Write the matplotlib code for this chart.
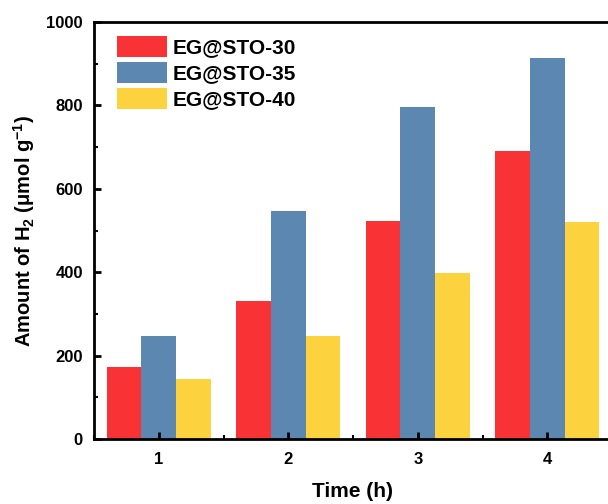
import matplotlib
matplotlib.use("Agg")
import matplotlib.pyplot as plt
import numpy as np
from matplotlib.ticker import MultipleLocator

times = [1, 2, 3, 4]
series_names = ["EG@STO-30", "EG@STO-35", "EG@STO-40"]
eg30 = [172, 331, 522, 690]
eg35 = [248, 547, 797, 914]
eg40 = [145, 246, 398, 520]
colors = ["#F83235", "#5B87B0", "#FDD23F"]

plt.rcParams['font.family'] = ['Liberation Sans', 'DejaVu Sans']
plt.rcParams['font.weight'] = 'bold'
plt.rcParams['mathtext.fontset'] = 'custom'
plt.rcParams['mathtext.rm'] = 'Liberation Sans:bold'
plt.rcParams['mathtext.default'] = 'rm'

fig = plt.figure(figsize=(6.08, 5.04), dpi=100)
ax = fig.add_axes([94/608, 65/504, (612-94)/608, (439-22)/504])

x = np.array(times, dtype=float)
w = 0.267
for i, (vals, name, c) in enumerate(zip([eg30, eg35, eg40], series_names, colors)):
    ax.bar(x + (i - 1) * w, vals, width=w, color=c, label=name, edgecolor='none')

ax.set_xlim(0.5, 4.5)
ax.set_ylim(0, 1000)
ax.set_xticks(times)
ax.xaxis.set_minor_locator(MultipleLocator(0.5))
ax.yaxis.set_major_locator(MultipleLocator(200))
ax.yaxis.set_minor_locator(MultipleLocator(100))
ax.tick_params(which='major', direction='in', length=5, width=2, labelsize=12, top=False, right=False)
ax.tick_params(which='minor', direction='in', length=3, width=1.5, top=False, right=False)
ax.tick_params(axis='x', which='major', pad=9)
ax.tick_params(axis='y', which='major', pad=8)
for lab in ax.get_xticklabels() + ax.get_yticklabels():
    lab.set_fontweight('bold')
for s in ax.spines.values():
    s.set_linewidth(2)

ax.set_xlabel("Time (h)", fontsize=15, fontweight='bold', labelpad=11)
ax.set_ylabel("Amount of H$_2$ (μmol g$^{-1}$)", fontsize=14.5, fontweight='bold', labelpad=7)

ax.legend(loc='upper left', bbox_to_anchor=(0.044, 0.966), borderaxespad=0, borderpad=0,
          frameon=False, prop={'weight': 'bold', 'size': 15}, handlelength=2.4,
          handleheight=1.15, handletextpad=0.3, labelspacing=0.22)

fig.savefig("out.png", dpi=100)
